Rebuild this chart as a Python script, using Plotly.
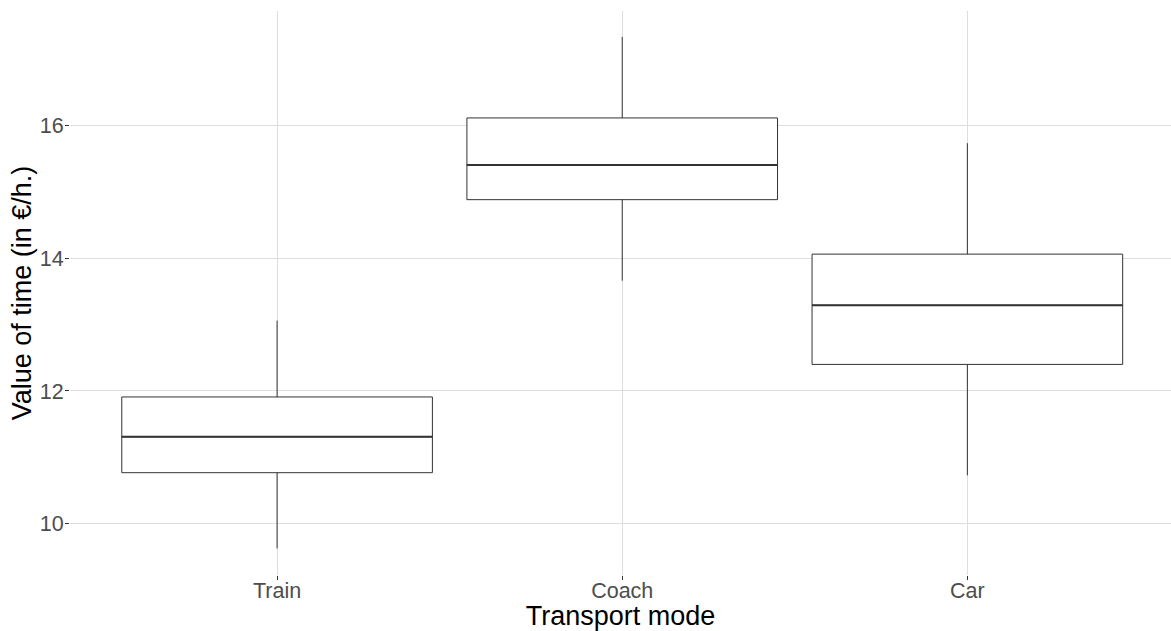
import plotly.graph_objects as go

categories = ["Train", "Coach", "Car"]
lower_whisker = [9.63, 13.66, 10.73]
q1_values = [10.77, 14.88, 12.40]
median_values = [11.31, 15.40, 13.29]
q3_values = [11.91, 16.11, 14.06]
upper_whisker = [13.06, 17.33, 15.73]
y_ticks = [10, 12, 14, 16]

fig = go.Figure()
fig.add_trace(go.Box(
    x=categories,
    q1=q1_values,
    median=median_values,
    q3=q3_values,
    lowerfence=lower_whisker,
    upperfence=upper_whisker,
    fillcolor="white",
    line=dict(color="#333333", width=1),
    whiskerwidth=0,
    width=0.9,
    boxpoints=False,
    showlegend=False,
    hoverinfo="skip",
))
# thicker median line like ggplot
for i, c in enumerate(categories):
    fig.add_trace(go.Scatter(
        x=[i - 0.45, i + 0.45], y=[median_values[i]] * 2,
        mode="lines", line=dict(color="#333333", width=2),
        showlegend=False, hoverinfo="skip", xaxis="x2",
    ))

fig.update_layout(
    width=1171, height=631,
    margin=dict(l=70, r=0, t=11, b=56, autoexpand=False),
    paper_bgcolor="white", plot_bgcolor="white",
    font=dict(family="Liberation Sans, Arial, sans-serif"),
    xaxis=dict(
        type="category", range=[-0.6, 2.59],
        showgrid=True, gridcolor="#dedede", gridwidth=1,
        ticks="outside", ticklen=4, tickcolor="#333333",
        tickfont=dict(size=21.5, color="#4d4d4d"),
        ticklabelstandoff=-8,
        title=dict(text="Transport mode", font=dict(size=27, color="black"), standoff=0),
        zeroline=False, showline=False, automargin=False,
    ),
    xaxis2=dict(
        range=[-0.6, 2.59], overlaying="x", visible=False,
    ),
    yaxis=dict(
        range=[9.23, 17.72],
        tickvals=y_ticks,
        showgrid=True, gridcolor="#dedede", gridwidth=1,
        ticks="outside", ticklen=4, tickcolor="#333333",
        tickfont=dict(size=21.5, color="#4d4d4d"),
        ticklabelstandoff=-3,
        title=dict(text="Value of time (in €/h.)", font=dict(size=27, color="black"), standoff=0),
        zeroline=False, showline=False, automargin=False,
    ),
)

fig.write_html("out.html", config={"displayModeBar": False},
               post_script="document.body.style.margin='0';")
